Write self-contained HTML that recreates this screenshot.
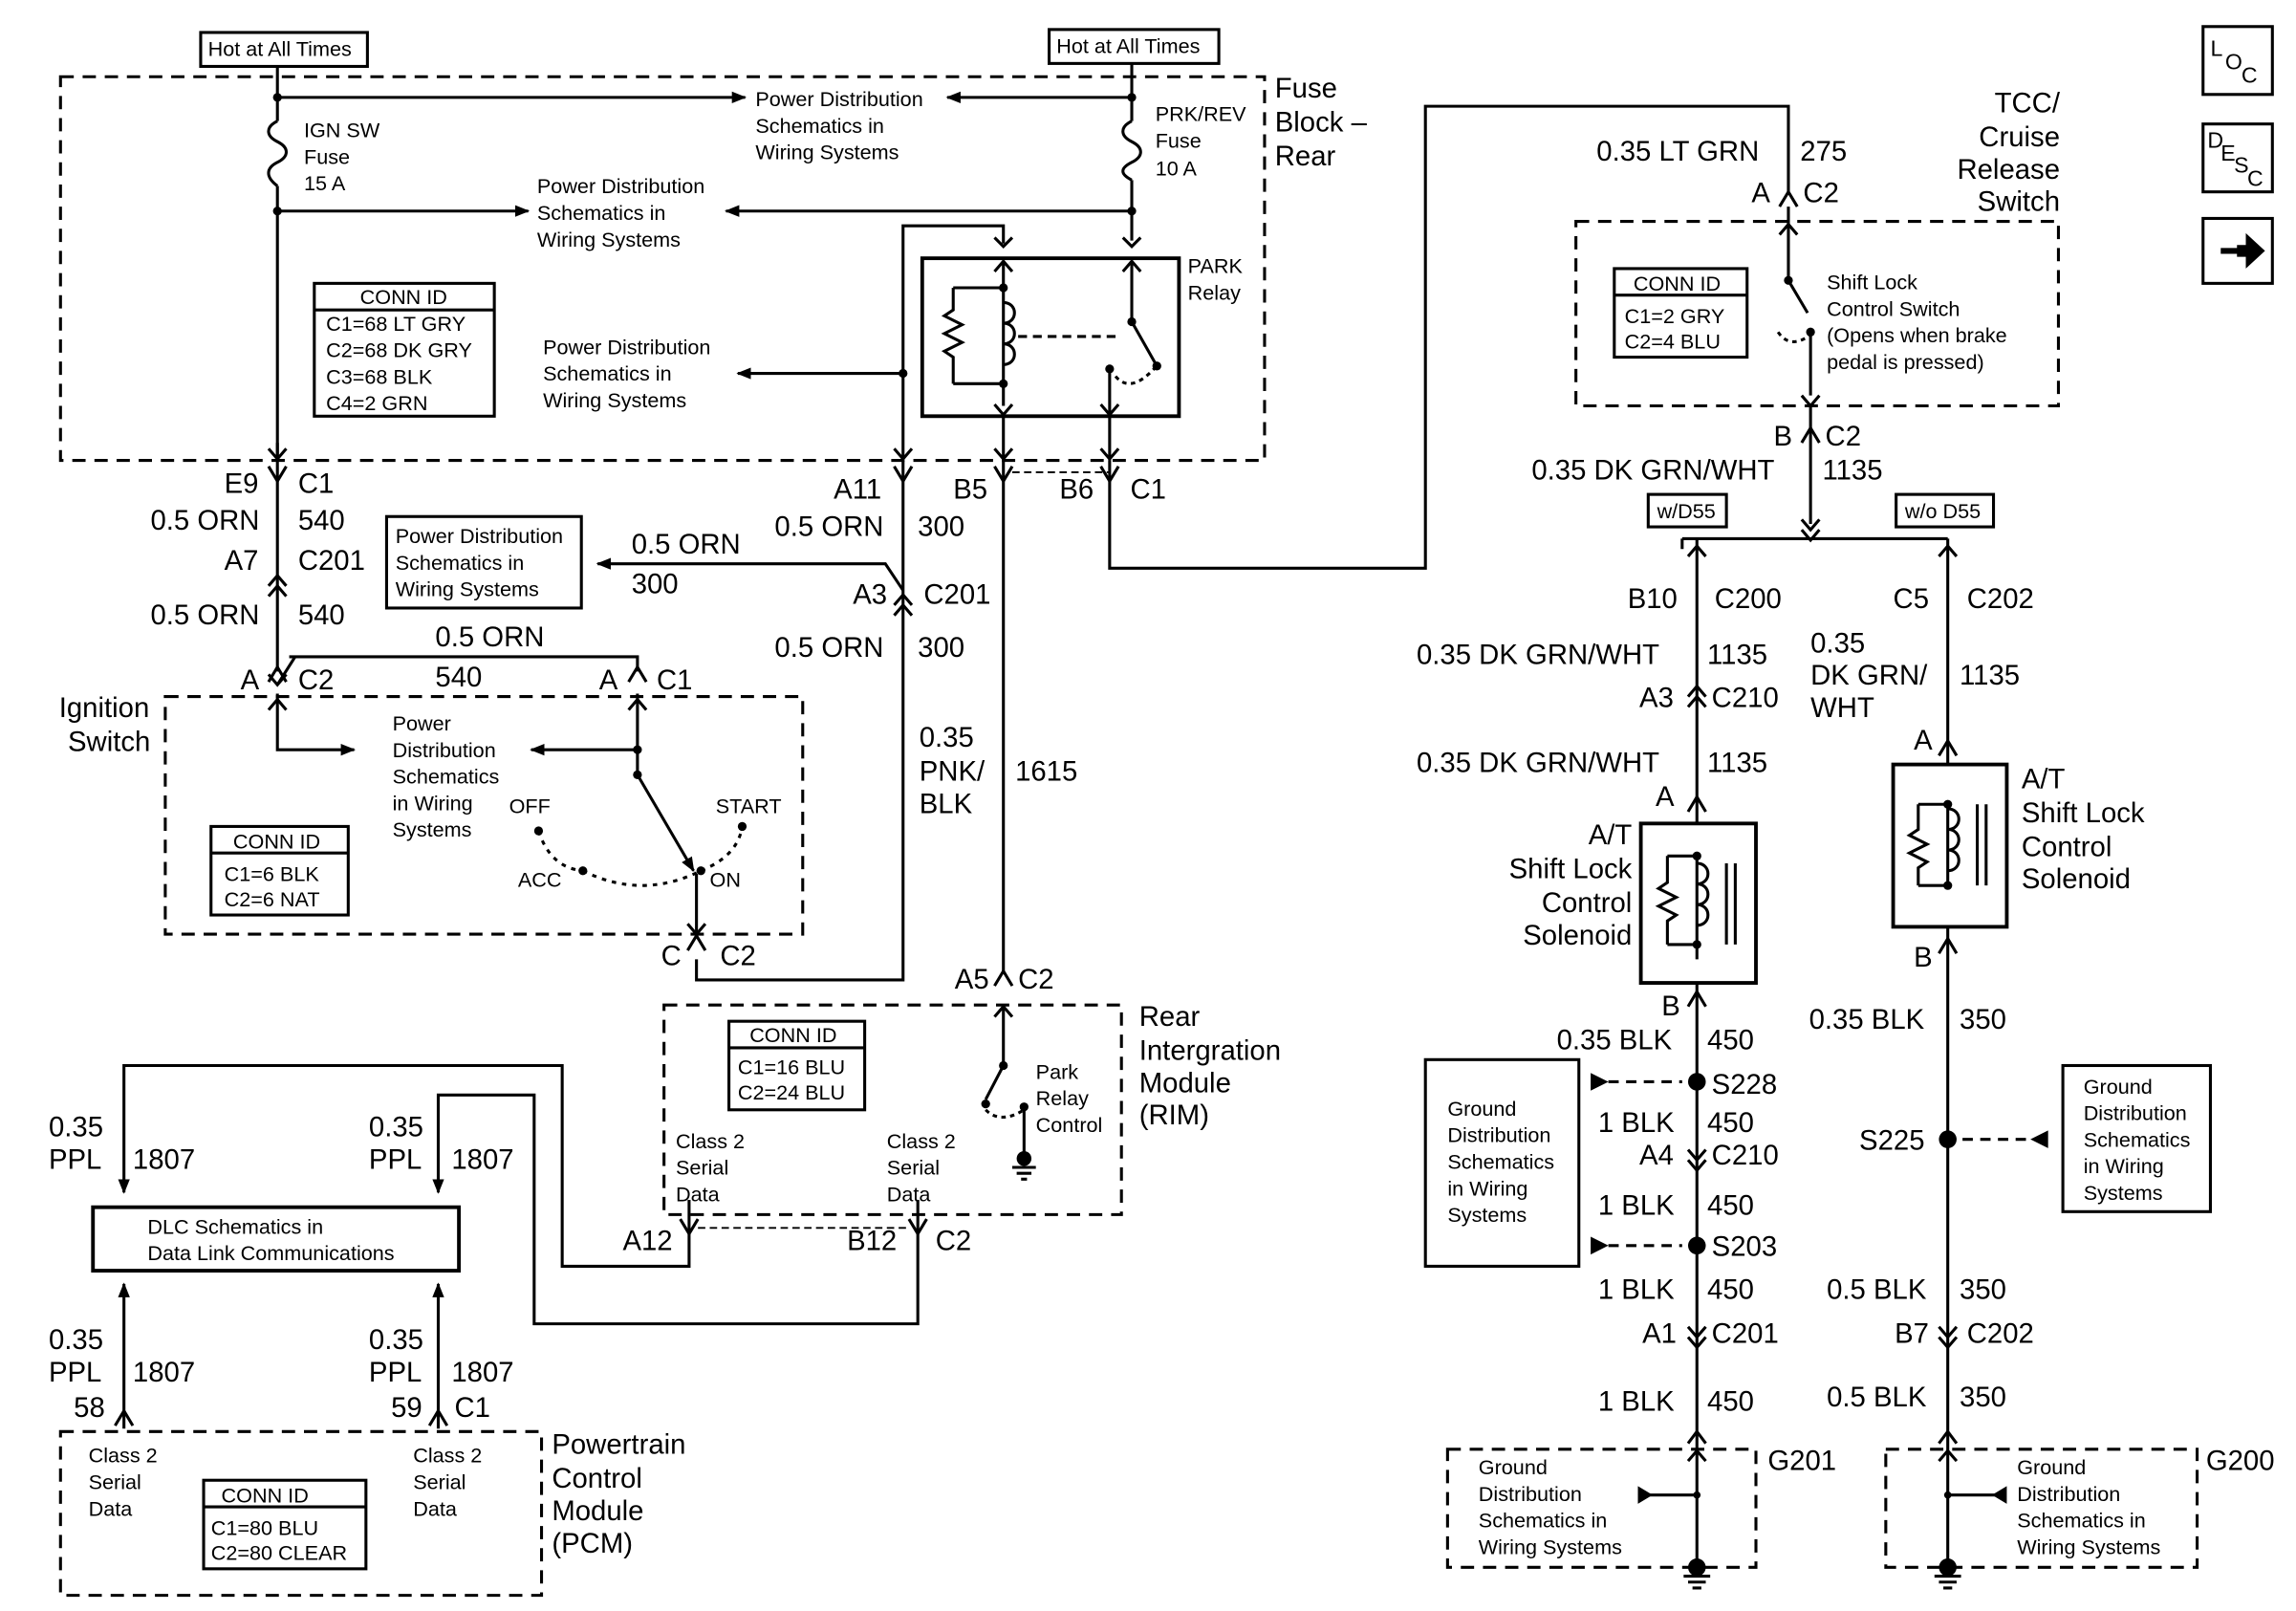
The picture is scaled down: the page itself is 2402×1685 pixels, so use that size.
<!DOCTYPE html>
<html><head><meta charset="utf-8"><style>
html,body{margin:0;padding:0;background:#fff;}
svg{display:block;}
text{font-family:"Liberation Sans",sans-serif;fill:#000;}
.s{font-size:14px;}
.l{font-size:19px;}
.m{font-size:15px;}
</style></head><body>
<svg width="2402" height="1685" viewBox="0 0 1556 1091.6" preserveAspectRatio="none" xmlns="http://www.w3.org/2000/svg">
<defs>
<marker id="ar" markerWidth="10" markerHeight="10" refX="9" refY="5" orient="auto" markerUnits="userSpaceOnUse"><path d="M0,1 L10,5 L0,9 z" fill="#000"/></marker>
</defs>
<g fill="none" stroke="#000" stroke-width="2">
<rect x="41" y="52" width="816" height="260" stroke-dasharray="9,6"/>
<rect x="112" y="472" width="432" height="161" stroke-dasharray="9,6"/>
<rect x="450" y="681" width="310" height="142" stroke-dasharray="9,6"/>
<rect x="41" y="970" width="326" height="111" stroke-dasharray="9,6"/>
<rect x="1068" y="150" width="327" height="125" stroke-dasharray="9,6"/>
<rect x="981" y="982" width="209" height="80" stroke-dasharray="9,6"/>
<rect x="1278" y="982" width="211" height="80" stroke-dasharray="9,6"/>
<rect x="136" y="22" width="113" height="23"/>
<rect x="711" y="20" width="115" height="23"/>
<rect x="213" y="192" width="122" height="90"/><line x1="213" y1="210" x2="335" y2="210"/>
<rect x="625" y="175" width="174" height="107" stroke-width="2.5"/>
<rect x="262" y="350" width="132" height="62"/>
<rect x="143" y="560" width="93" height="60"/><line x1="143" y1="578" x2="236" y2="578"/>
<rect x="494" y="692" width="92" height="60"/><line x1="494" y1="710" x2="586" y2="710"/>
<rect x="63" y="818" width="248" height="43" stroke-width="2.5"/>
<rect x="138" y="1003" width="110" height="60"/><line x1="138" y1="1021" x2="248" y2="1021"/>
<rect x="1094" y="182" width="90" height="60"/><line x1="1094" y1="200" x2="1184" y2="200"/>
<rect x="1117" y="335" width="53" height="22"/>
<rect x="1285" y="335" width="66" height="22"/>
<rect x="1112" y="558" width="78" height="108" stroke-width="2.5"/>
<rect x="1283" y="518" width="77" height="110" stroke-width="2.5"/>
<rect x="966" y="718" width="104" height="140"/>
<rect x="1398" y="722" width="100" height="99"/>
<rect x="1493" y="18" width="47" height="46"/>
<rect x="1493" y="84" width="47" height="46"/>
<rect x="1493" y="148" width="47" height="44"/>

<path d="M188,45 V82 M188,126 V310"/>
<path d="M188,82 c-8,4 -8,10 0,14 c8,4 8,10 0,14 c-8,4 -8,10 0,16"/>
<path d="M188,66 H505" marker-end="url(#ar)"/>
<path d="M768,66 H642" marker-end="url(#ar)"/>
<path d="M188,143 H358" marker-end="url(#ar)"/>
<path d="M767,143 H492" marker-end="url(#ar)"/>
<path d="M767,43 V82 M767,122 V163"/>
<path d="M767,82 c-8,4 -8,10 0,14 c8,4 8,10 0,14 c-8,4 -8,8 0,12"/>
<path d="M612,310 V153 H680 V165"/>
<path d="M674,161 L680,167 L686,161 M761,161 L767,167 L773,161"/>
<path d="M612,253 H500" marker-end="url(#ar)"/>
<path d="M680,177 V275 M674,184 l6,-7 l6,7"/>
<path d="M646,195 H680 M646,260 H680 M646,195 V210 l-6,4 l12,6 l-12,6 l12,6 l-12,6 l6,4 V260"/>
<path d="M680,205 c10,0 10,14 0,14 c10,0 10,14 0,14 c10,0 10,14 0,14"/>
<path d="M690,228 H760" stroke-dasharray="6,4"/>
<path d="M767,177 V218 L784,248 M761,184 l6,-7 l6,7"/>
<path d="M752,250 V282 M746,274 l6,7 l6,-7 M674,274 l6,7 l6,-7"/>
<path d="M756,255 q10,12 26,-5" stroke-dasharray="3,3"/>
<path d="M680,282 V312 M752,282 V312 M674,304 l6,7 l6,-7 M746,304 l6,7 l6,-7"/>
<path d="M188,300 V312 M182,304 l6,7 l6,-7 M606,304 l6,7 l6,-7"/>
<path d="M188,312 V455 M612,312 V664 H472 V650"/>
<path d="M680,312 V660 M752,312 V385 H966 V72 H1212 V132"/>
<path d="M686,320 H752" stroke-width="1.2" stroke-dasharray="5,3"/>
<path d="M612,400 L600,382 H405" marker-end="url(#ar)"/>
<path d="M196,445 H432 V455"/>
<path d="M188,470 V508 H240" marker-end="url(#ar)"/>
<path d="M182,481 l6,-7 l6,7 M426,481 l6,-7 l6,7"/>
<path d="M432,470 V508 M432,508 H360" marker-end="url(#ar)"/>
<path d="M432,508 V525 L470,590" marker-end="url(#ar)"/>
<path d="M472,592 V635 M466,626 l6,7 l6,-7"/>
<path d="M395,590 q40,20 80,0 M365,563 q8,25 30,27 M475,590 q25,-10 28,-30" stroke-dasharray="3,4"/>
<!-- box-edge connectors -->
<path d="M182,316 L188,326 L194,316 M606,316 L612,326 L618,316 M674,316 L680,326 L686,316 M746,316 L752,326 L758,316"/>
<path d="M182,462 L188,452 L194,462 M426,462 L432,452 L438,462"/>
<path d="M466,644 L472,634 L478,644 M674,668 L680,658 L686,668"/>
<path d="M461,826 L467,836 L473,826 M616,826 L622,836 L628,826"/>
<path d="M473,832 H616" stroke-width="1.2" stroke-dasharray="5,3"/>
<path d="M78,966 L84,956 L90,966 M291,966 L297,956 L303,966"/>
<path d="M1206,140 L1212,130 L1218,140 M1221,300 L1227,290 L1233,300"/>
<path d="M1144,550 L1150,540 L1156,550 M1314,512 L1320,502 L1326,512"/>
<path d="M1144,682 L1150,672 L1156,682 M1314,646 L1320,636 L1326,646"/>
<path d="M1144,978 L1150,970 L1156,978 M1314,978 L1320,970 L1326,978"/>
<path d="M1144,990 L1150,983 L1156,990 M1314,990 L1320,983 L1326,990"/>
<!-- inline double connectors -->
<path d="M182,397 L188,390 L194,397 M182,404 L188,397 L194,404"/>
<path d="M606,410 L612,403 L618,410 M606,417 L612,410 L618,417"/>
<path d="M182,457 L188,464 L194,457 M200,445 L188,464"/>
<path d="M1144,377 L1150,370 L1156,377 M1314,377 L1320,370 L1326,377"/>
<path d="M1144,472 L1150,465 L1156,472 M1144,479 L1150,472 L1156,479"/>
<path d="M1144,779 L1150,786 L1156,779 M1144,786 L1150,793 L1156,786"/>
<path d="M1144,899 L1150,906 L1156,899 M1144,906 L1150,913 L1156,906"/>
<path d="M1314,899 L1320,906 L1326,899 M1314,906 L1320,913 L1326,906"/>
<path d="M1221,352 L1227,359 L1233,352 M1221,359 L1227,366 L1233,359"/>
<!-- RIM internals -->
<path d="M680,681 V722 L668,745 M674,689 l6,-7 l6,7 M694,750 V785"/>
<path d="M668,752 q10,10 26,0" stroke-dasharray="3,3"/>
<path d="M686,791 H702 M689,795 H699 M692,799 H696"/>
<path d="M467,813 V858 H381 V722 H84 V808" marker-end="url(#ar)"/>
<path d="M622,813 V897 H362 V742 H297 V808" marker-end="url(#ar)"/>
<path d="M84,968 V870" marker-end="url(#ar)"/>
<path d="M297,968 V870" marker-end="url(#ar)"/>
<path d="M1212,140 V190 L1225,212 M1227,225 V268 M1206,159 l6,-7 l6,7 M1221,268 l6,7 l6,-7"/>
<path d="M1205,225 q8,12 22,2" stroke-dasharray="3,3"/>
<path d="M1227,275 V355"/>
<path d="M1140,365 H1320 M1140,365 V372"/>
<path d="M1150,365 V558 M1150,666 V970 M1320,365 V518 M1320,628 V970"/>
<path d="M1150,580 V650 M1130,580 H1150 M1130,640 H1150 M1130,580 V598 l-6,4 l12,6 l-12,6 l12,6 l-6,4 V640"/>
<path d="M1150,585 c10,0 10,14 0,14 c10,0 10,14 0,14 c10,0 10,14 0,14"/>
<path d="M1170,585 V640 M1176,585 V640"/>
<path d="M1320,545 V600 M1300,545 H1320 M1300,600 H1320 M1300,545 V562 l-6,4 l12,6 l-12,6 l12,6 l-6,4 V600"/>
<path d="M1320,548 c10,0 10,14 0,14 c10,0 10,14 0,14 c10,0 10,14 0,14"/>
<path d="M1340,545 V600 M1346,545 V600"/>
<path d="M1090,733 H1140 M1090,844 H1140" stroke-dasharray="7,5"/>
<path d="M1330,772 H1376" stroke-dasharray="7,5"/>
<path d="M1150,970 V1062 M1118,1013 H1150 M1320,970 V1062 M1320,1013 H1352"/>
<path d="M1141,1068 H1159 M1144,1072 H1156 M1147,1076 H1153 M1311,1068 H1329 M1314,1072 H1326 M1317,1076 H1323"/>
<path d="M1505,170 H1518" stroke-width="4"/>
</g>
<g fill="#000">
<path d="M1090,733 l-12,-6 v12 z M1090,844 l-12,-6 v12 z M1376,772 l12,-6 v12 z"/>
<path d="M1120,1013 l-10,-6 v12 z M1350,1013 l10,-6 v12 z"/>
<path d="M1516,166 h6 v-8 l13,12 l-13,12 v-8 h-6 z"/>
<circle cx="188" cy="66" r="3"/><circle cx="188" cy="143" r="3"/><circle cx="767" cy="66" r="3"/><circle cx="767" cy="143" r="3"/>
<circle cx="612" cy="253" r="3"/><circle cx="680" cy="195" r="3"/><circle cx="680" cy="260" r="3"/><circle cx="767" cy="218" r="3"/><circle cx="784" cy="248" r="3"/><circle cx="752" cy="250" r="3"/>
<circle cx="432" cy="508" r="3"/><circle cx="432" cy="525" r="3"/><circle cx="365" cy="563" r="3"/><circle cx="503" cy="560" r="3"/><circle cx="395" cy="590" r="3"/><circle cx="475" cy="590" r="3"/>
<circle cx="680" cy="722" r="3"/><circle cx="668" cy="748" r="3"/><circle cx="694" cy="750" r="3"/><circle cx="694" cy="785" r="5"/>
<circle cx="1212" cy="190" r="3"/><circle cx="1227" cy="225" r="3"/>
<circle cx="1150" cy="580" r="3"/><circle cx="1150" cy="640" r="3"/><circle cx="1320" cy="545" r="3"/><circle cx="1320" cy="600" r="3"/>
<circle cx="1150" cy="733" r="6"/><circle cx="1150" cy="844" r="6"/><circle cx="1320" cy="772" r="6"/>
<circle cx="1150" cy="1062" r="6"/><circle cx="1320" cy="1062" r="6"/>
<circle cx="1150" cy="1013" r="2.5"/><circle cx="1320" cy="1013" r="2.5"/>
</g>

<text class="s" x="141" y="38">Hot at All Times</text>
<text class="s" x="716" y="36">Hot at All Times</text>
<text class="l" x="864" y="66">Fuse</text><text class="l" x="864" y="89">Block –</text><text class="l" x="864" y="112">Rear</text>
<text class="s" x="206" y="93">IGN SW</text><text class="s" x="206" y="111">Fuse</text><text class="s" x="206" y="129">15 A</text>
<text class="s" x="512" y="72">Power Distribution</text><text class="s" x="512" y="90">Schematics in</text><text class="s" x="512" y="108">Wiring Systems</text>
<text class="s" x="364" y="131">Power Distribution</text><text class="s" x="364" y="149">Schematics in</text><text class="s" x="364" y="167">Wiring Systems</text>
<text class="s" x="783" y="82">PRK/REV</text><text class="s" x="783" y="100">Fuse</text><text class="s" x="783" y="119">10 A</text>
<text class="s" x="805" y="185">PARK</text><text class="s" x="805" y="203">Relay</text>
<text class="s" x="244" y="206">CONN ID</text>
<text class="s" x="221" y="224">C1=68 LT GRY</text><text class="s" x="221" y="242">C2=68 DK GRY</text><text class="s" x="221" y="260">C3=68 BLK</text><text class="s" x="221" y="278">C4=2 GRN</text>
<text class="s" x="368" y="240">Power Distribution</text><text class="s" x="368" y="258">Schematics in</text><text class="s" x="368" y="276">Wiring Systems</text>

<text class="l" x="152" y="334">E9</text><text class="l" x="202" y="334">C1</text>
<text class="l" x="102" y="359">0.5 ORN</text><text class="l" x="202" y="359">540</text>
<text class="l" x="152" y="386">A7</text><text class="l" x="202" y="386">C201</text>
<text class="l" x="102" y="423">0.5 ORN</text><text class="l" x="202" y="423">540</text>
<text class="l" x="295" y="438">0.5 ORN</text><text class="l" x="295" y="465">540</text>
<text class="l" x="163" y="467">A</text><text class="l" x="202" y="467">C2</text>
<text class="l" x="406" y="467">A</text><text class="l" x="445" y="467">C1</text>
<text class="l" x="40" y="486">Ignition</text><text class="l" x="46" y="509">Switch</text>
<text class="s" x="266" y="495">Power</text><text class="s" x="266" y="513">Distribution</text><text class="s" x="266" y="531">Schematics</text><text class="s" x="266" y="549">in Wiring</text><text class="s" x="266" y="567">Systems</text>
<text class="s" x="345" y="551">OFF</text><text class="s" x="485" y="551">START</text><text class="s" x="351" y="601">ACC</text><text class="s" x="481" y="601">ON</text>
<text class="s" x="158" y="575">CONN ID</text><text class="s" x="152" y="597">C1=6 BLK</text><text class="s" x="152" y="614">C2=6 NAT</text>
<text class="l" x="448" y="654">C</text><text class="l" x="488" y="654">C2</text>

<text class="l" x="565" y="338">A11</text><text class="l" x="646" y="338">B5</text><text class="l" x="718" y="338">B6</text><text class="l" x="766" y="338">C1</text>
<text class="l" x="525" y="363">0.5 ORN</text><text class="l" x="622" y="363">300</text>
<text class="s" x="268" y="368">Power Distribution</text><text class="s" x="268" y="386">Schematics in</text><text class="s" x="268" y="404">Wiring Systems</text>
<text class="l" x="428" y="375">0.5 ORN</text><text class="l" x="428" y="402">300</text>
<text class="l" x="578" y="409">A3</text><text class="l" x="626" y="409">C201</text>
<text class="l" x="525" y="445">0.5 ORN</text><text class="l" x="622" y="445">300</text>
<text class="l" x="623" y="506">0.35</text><text class="l" x="623" y="529">PNK/</text><text class="l" x="623" y="551">BLK</text><text class="l" x="688" y="529">1615</text>
<text class="l" x="647" y="670">A5</text><text class="l" x="690" y="670">C2</text>
<text class="l" x="772" y="695">Rear</text><text class="l" x="772" y="718">Intergration</text><text class="l" x="772" y="740">Module</text><text class="l" x="772" y="762">(RIM)</text>
<text class="s" x="508" y="706">CONN ID</text><text class="s" x="500" y="728">C1=16 BLU</text><text class="s" x="500" y="745">C2=24 BLU</text>
<text class="s" x="702" y="731">Park</text><text class="s" x="702" y="749">Relay</text><text class="s" x="702" y="767">Control</text>
<text class="s" x="458" y="778">Class 2</text><text class="s" x="458" y="796">Serial</text><text class="s" x="458" y="814">Data</text>
<text class="s" x="601" y="778">Class 2</text><text class="s" x="601" y="796">Serial</text><text class="s" x="601" y="814">Data</text>
<text class="l" x="422" y="847">A12</text><text class="l" x="574" y="847">B12</text><text class="l" x="634" y="847">C2</text>
<text class="l" x="33" y="770">0.35</text><text class="l" x="33" y="792">PPL</text><text class="l" x="90" y="792">1807</text>
<text class="l" x="250" y="770">0.35</text><text class="l" x="250" y="792">PPL</text><text class="l" x="306" y="792">1807</text>
<text class="s" x="100" y="836">DLC Schematics in</text><text class="s" x="100" y="854">Data Link Communications</text>
<text class="l" x="33" y="914">0.35</text><text class="l" x="33" y="936">PPL</text><text class="l" x="90" y="936">1807</text>
<text class="l" x="250" y="914">0.35</text><text class="l" x="250" y="936">PPL</text><text class="l" x="306" y="936">1807</text>
<text class="l" x="50" y="960">58</text><text class="l" x="265" y="960">59</text><text class="l" x="308" y="960">C1</text>
<text class="s" x="60" y="991">Class 2</text><text class="s" x="60" y="1009">Serial</text><text class="s" x="60" y="1027">Data</text>
<text class="s" x="280" y="991">Class 2</text><text class="s" x="280" y="1009">Serial</text><text class="s" x="280" y="1027">Data</text>
<text class="s" x="150" y="1018">CONN ID</text><text class="s" x="143" y="1040">C1=80 BLU</text><text class="s" x="143" y="1057">C2=80 CLEAR</text>
<text class="l" x="374" y="985">Powertrain</text><text class="l" x="374" y="1008">Control</text><text class="l" x="374" y="1030">Module</text><text class="l" x="374" y="1052">(PCM)</text>

<text class="l" x="1396" y="76" text-anchor="end">TCC/</text><text class="l" x="1396" y="99" text-anchor="end">Cruise</text><text class="l" x="1396" y="121" text-anchor="end">Release</text><text class="l" x="1396" y="143" text-anchor="end">Switch</text>
<text class="l" x="1082" y="109">0.35 LT GRN</text><text class="l" x="1220" y="109">275</text>
<text class="l" x="1187" y="137">A</text><text class="l" x="1222" y="137">C2</text>
<text class="s" x="1107" y="197">CONN ID</text><text class="s" x="1101" y="219">C1=2 GRY</text><text class="s" x="1101" y="236">C2=4 BLU</text>
<text class="s" x="1238" y="196">Shift Lock</text><text class="s" x="1238" y="214">Control Switch</text><text class="s" x="1238" y="232">(Opens when brake</text><text class="s" x="1238" y="250">pedal is pressed)</text>
<text class="l" x="1202" y="302">B</text><text class="l" x="1237" y="302">C2</text>
<text class="l" x="1038" y="325">0.35 DK GRN/WHT</text><text class="l" x="1235" y="325">1135</text>
<text class="s" x="1123" y="351">w/D55</text><text class="s" x="1291" y="351">w/o D55</text>
<text class="l" x="1103" y="412">B10</text><text class="l" x="1162" y="412">C200</text>
<text class="l" x="960" y="450">0.35 DK GRN/WHT</text><text class="l" x="1157" y="450">1135</text>
<text class="l" x="1111" y="479">A3</text><text class="l" x="1160" y="479">C210</text>
<text class="l" x="960" y="523">0.35 DK GRN/WHT</text><text class="l" x="1157" y="523">1135</text>
<text class="l" x="1122" y="546">A</text>
<text class="l" x="1106" y="572" text-anchor="end">A/T</text><text class="l" x="1106" y="595" text-anchor="end">Shift Lock</text><text class="l" x="1106" y="618" text-anchor="end">Control</text><text class="l" x="1106" y="640" text-anchor="end">Solenoid</text>
<text class="l" x="1126" y="688">B</text>
<text class="l" x="1055" y="711">0.35 BLK</text><text class="l" x="1157" y="711">450</text>
<text class="l" x="1160" y="741">S228</text>
<text class="s" x="981" y="756">Ground</text><text class="s" x="981" y="774">Distribution</text><text class="s" x="981" y="792">Schematics</text><text class="s" x="981" y="810">in Wiring</text><text class="s" x="981" y="828">Systems</text>
<text class="l" x="1083" y="767">1 BLK</text><text class="l" x="1157" y="767">450</text>
<text class="l" x="1111" y="789">A4</text><text class="l" x="1160" y="789">C210</text>
<text class="l" x="1083" y="823">1 BLK</text><text class="l" x="1157" y="823">450</text>
<text class="l" x="1160" y="851">S203</text>
<text class="l" x="1083" y="880">1 BLK</text><text class="l" x="1157" y="880">450</text>
<text class="l" x="1113" y="910">A1</text><text class="l" x="1160" y="910">C201</text>
<text class="l" x="1083" y="956">1 BLK</text><text class="l" x="1157" y="956">450</text>
<text class="s" x="1002" y="999">Ground</text><text class="s" x="1002" y="1017">Distribution</text><text class="s" x="1002" y="1035">Schematics in</text><text class="s" x="1002" y="1053">Wiring Systems</text>
<text class="l" x="1198" y="996">G201</text>
<text class="l" x="1283" y="412">C5</text><text class="l" x="1333" y="412">C202</text>
<text class="l" x="1227" y="442">0.35</text><text class="l" x="1227" y="464">DK GRN/</text><text class="l" x="1227" y="486">WHT</text><text class="l" x="1328" y="464">1135</text>
<text class="l" x="1297" y="508">A</text>
<text class="l" x="1370" y="534">A/T</text><text class="l" x="1370" y="557">Shift Lock</text><text class="l" x="1370" y="580">Control</text><text class="l" x="1370" y="602">Solenoid</text>
<text class="l" x="1297" y="655">B</text>
<text class="l" x="1226" y="697">0.35 BLK</text><text class="l" x="1328" y="697">350</text>
<text class="l" x="1260" y="779">S225</text>
<text class="s" x="1412" y="741">Ground</text><text class="s" x="1412" y="759">Distribution</text><text class="s" x="1412" y="777">Schematics</text><text class="s" x="1412" y="795">in Wiring</text><text class="s" x="1412" y="813">Systems</text>
<text class="l" x="1238" y="880">0.5 BLK</text><text class="l" x="1328" y="880">350</text>
<text class="l" x="1284" y="910">B7</text><text class="l" x="1333" y="910">C202</text>
<text class="l" x="1238" y="953">0.5 BLK</text><text class="l" x="1328" y="953">350</text>
<text class="s" x="1367" y="999">Ground</text><text class="s" x="1367" y="1017">Distribution</text><text class="s" x="1367" y="1035">Schematics in</text><text class="s" x="1367" y="1053">Wiring Systems</text>
<text class="l" x="1495" y="996">G200</text>
<text class="m" x="1498" y="38">L</text><text class="m" x="1508" y="47">O</text><text class="m" x="1519" y="56">C</text>
<text class="m" x="1496" y="100">D</text><text class="m" x="1505" y="109">E</text><text class="m" x="1514" y="117">S</text><text class="m" x="1523" y="126">C</text>
</svg>
</body></html>
